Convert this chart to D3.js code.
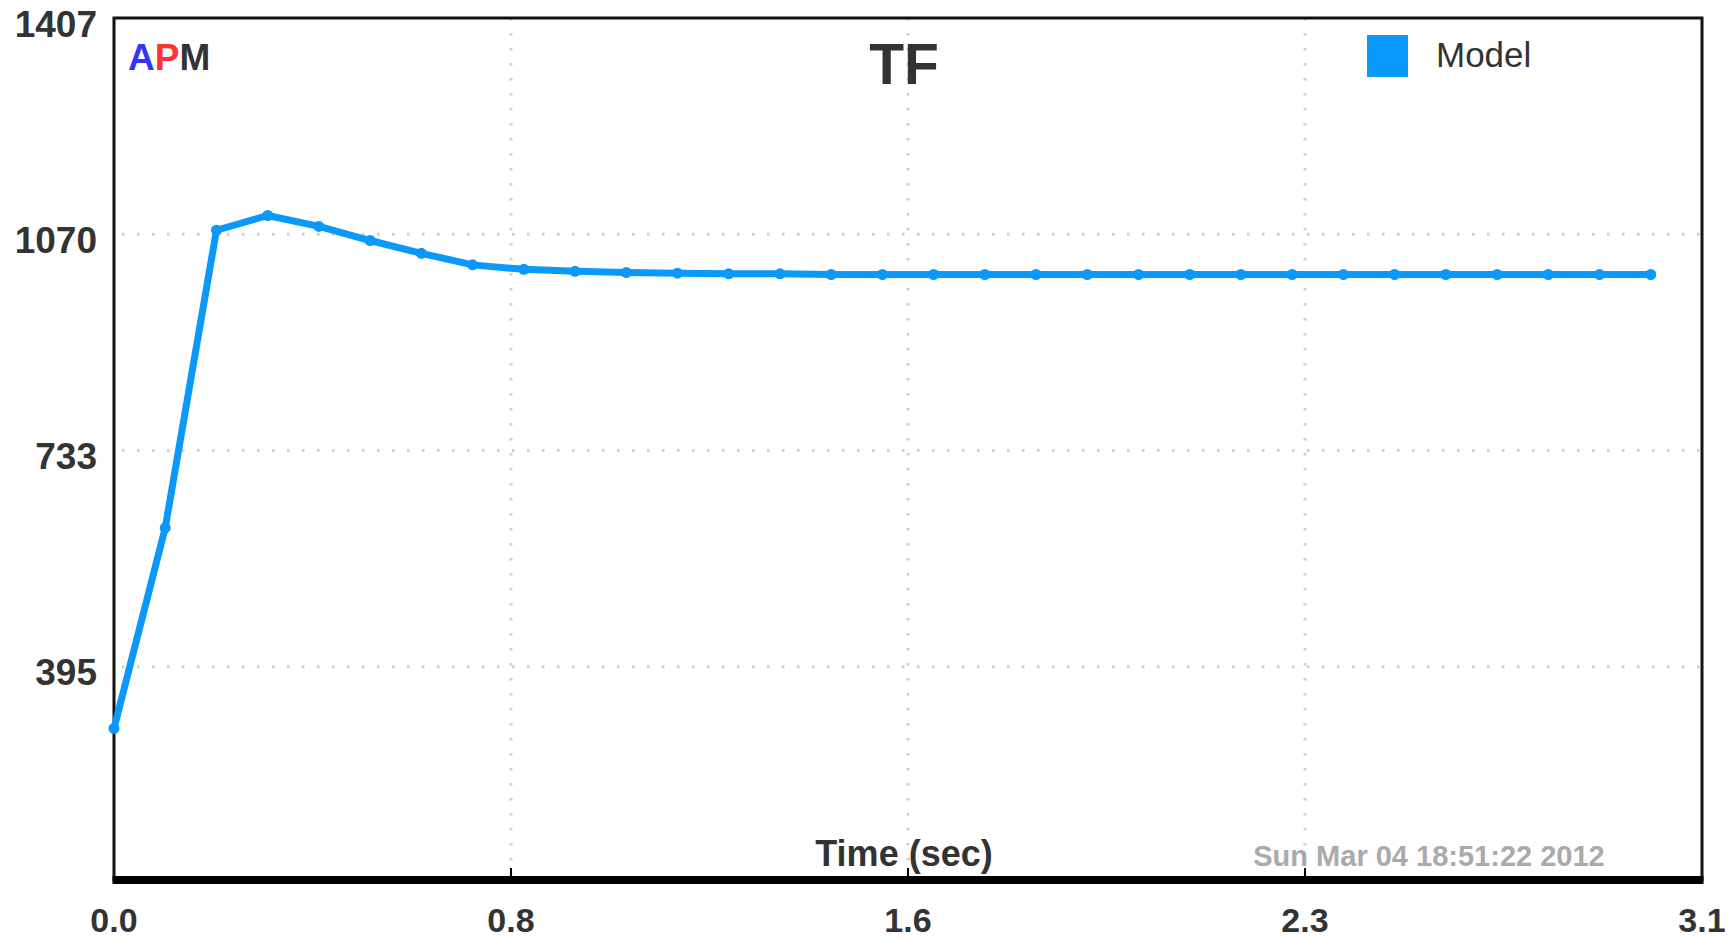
<!DOCTYPE html>
<html>
<head>
<meta charset="utf-8">
<script src="https://cdn.jsdelivr.net/npm/d3@7"></script>
<style>
  body { margin: 0; background: #fff; }
  svg { display: block; font-family: Arial, "Liberation Sans", sans-serif; }
</style>
</head>
<body>
<div id="chart"></div>
<script>
// time in seconds, model response
var times = [0.0, 0.1, 0.2, 0.3, 0.4, 0.5, 0.6, 0.7, 0.8, 0.9, 1.0,
  1.1, 1.2, 1.3, 1.4, 1.5, 1.6, 1.7, 1.8, 1.9, 2.0,
  2.1, 2.2, 2.3, 2.4, 2.5, 2.6, 2.7, 2.8, 2.9, 3.0];
var model = [299, 612, 1076, 1099, 1082, 1060, 1040, 1022, 1015, 1012, 1010,
  1009, 1008, 1008, 1007, 1007, 1007, 1007, 1007, 1007, 1007,
  1007, 1007, 1007, 1007, 1007, 1007, 1007, 1007, 1007, 1007];
var xTicks = [0, 0.775, 1.55, 2.325, 3.1];
var yTicks = [1407, 1069.75, 732.5, 395.25];
var xDomain = [0, 3.1];
var yDomain = [58, 1407];

var W = 1733, H = 940;
var pLeft = 114, pRight = 1702, pTop = 18, pBottom = 883;
var axisY = 880;
var blue = "#0a98fb", ink = "#333";

var svg = d3.select("#chart").append("svg")
  .attr("width", W).attr("height", H);

var x = d3.scaleLinear().domain(xDomain).range([pLeft, pRight]);
var y = d3.scaleLinear().domain(yDomain).range([pBottom, pTop]);

// dotted grid
var grid = svg.append("g").attr("class", "grid")
  .attr("stroke", "#cfcfcf").attr("stroke-width", 3)
  .attr("stroke-dasharray", "2.5,12.5");
grid.selectAll("line.h")
  .data(yTicks.slice(1))
  .enter().append("line")
  .attr("x1", pLeft + 8).attr("x2", pRight)
  .attr("y1", d => y(d)).attr("y2", d => y(d));
grid.selectAll("line.v")
  .data(xTicks.slice(1, -1))
  .enter().append("line")
  .attr("y1", pTop).attr("y2", axisY)
  .attr("x1", d => x(d)).attr("x2", d => x(d));

// frame
svg.append("rect")
  .attr("x", pLeft).attr("y", pTop)
  .attr("width", pRight - pLeft).attr("height", axisY - pTop)
  .attr("fill", "none").attr("stroke", "#111").attr("stroke-width", 3);
svg.append("line")
  .attr("x1", pLeft - 1.5).attr("x2", pRight + 1.5)
  .attr("y1", axisY).attr("y2", axisY)
  .attr("stroke", "#000").attr("stroke-width", 8);

// bottom tick marks
svg.selectAll("line.xt")
  .data(xTicks.slice(1, -1))
  .enter().append("line")
  .attr("x1", d => x(d)).attr("x2", d => x(d))
  .attr("y1", axisY).attr("y2", axisY - 12)
  .attr("stroke", "#000").attr("stroke-width", 2);

// axis labels
var fmtX = d3.format(".1f");
svg.selectAll("text.xl")
  .data(xTicks)
  .enter().append("text")
  .attr("x", d => x(d)).attr("y", 932)
  .attr("text-anchor", "middle")
  .attr("font-size", 34).attr("font-weight", "bold").attr("fill", ink)
  .text(d => fmtX(d));
svg.selectAll("text.yl")
  .data(yTicks)
  .enter().append("text")
  .attr("x", 97).attr("y", d => y(d) + 18.5)
  .attr("text-anchor", "end")
  .attr("font-size", 37).attr("font-weight", "bold").attr("fill", ink)
  .text(d => Math.round(d));

// series
var pts = times.map((t, i) => [t, model[i]]);
var line = d3.line().x(d => x(d[0])).y(d => y(d[1]));
svg.append("path")
  .datum(pts)
  .attr("d", line)
  .attr("fill", "none").attr("stroke", blue)
  .attr("stroke-width", 7).attr("stroke-linejoin", "round");
svg.selectAll("circle.pt")
  .data(pts)
  .enter().append("circle")
  .attr("cx", d => x(d[0])).attr("cy", d => y(d[1]))
  .attr("r", 5.5).attr("fill", blue);

// title + logo
svg.append("text")
  .attr("x", 904).attr("y", 84)
  .attr("text-anchor", "middle")
  .attr("font-size", 57).attr("font-weight", "bold").attr("fill", ink)
  .text("TF");
var logo = svg.append("text")
  .attr("x", 128).attr("y", 70)
  .attr("font-size", 37).attr("font-weight", "bold");
logo.append("tspan").attr("fill", "#3333ff").text("A");
logo.append("tspan").attr("fill", "#ff3333").text("P");
logo.append("tspan").attr("fill", ink).text("M");

// legend
svg.append("rect")
  .attr("x", 1367).attr("y", 35).attr("width", 41).attr("height", 42)
  .attr("fill", blue);
svg.append("text")
  .attr("x", 1436).attr("y", 67)
  .attr("font-size", 35).attr("fill", ink)
  .text("Model");

// bottom texts
svg.append("text")
  .attr("x", 904).attr("y", 866)
  .attr("text-anchor", "middle")
  .attr("font-size", 36).attr("font-weight", "bold").attr("fill", ink)
  .text("Time (sec)");
svg.append("text")
  .attr("x", 1429).attr("y", 866)
  .attr("text-anchor", "middle")
  .attr("font-size", 29).attr("font-weight", "bold").attr("fill", "#aaa")
  .text("Sun Mar 04 18:51:22 2012");
</script>
</body>
</html>
